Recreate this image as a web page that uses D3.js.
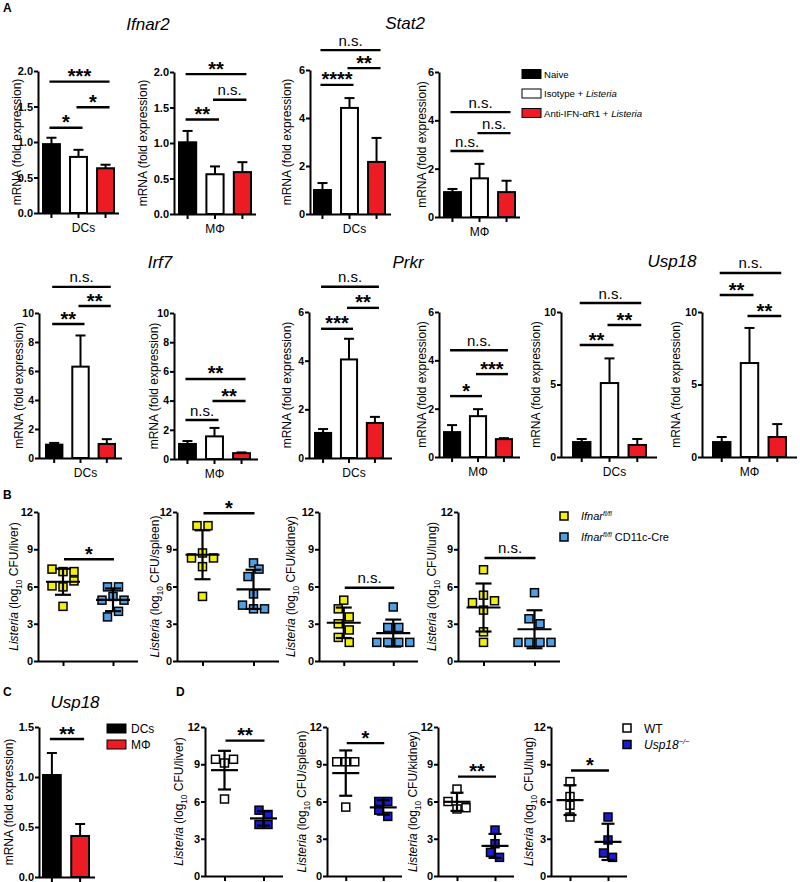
<!DOCTYPE html>
<html><head><meta charset="utf-8">
<script src="https://cdn.jsdelivr.net/npm/d3@7/dist/d3.min.js"></script>
<style>
body{margin:0;background:#fff}
svg text{font-family:'Liberation Sans',Arial,Helvetica,sans-serif;fill:#000}
</style></head>
<body>
<svg id="fig" width="800" height="882"></svg>
<script>
// ================= DATA =================
const treatments = ["Naive", "Isotype + Listeria", "Anti-IFN-\u03b1R1 + Listeria"];
const treatmentColors = ["#000000", "#ffffff", "#ed1c24"];
const cellTypes = ["DCs", "M\u03a6"];

// Panel A: mean and SEM (fold expression)
const ifnar2DC = [0.97, 0.79, 0.63], ifnar2DCsem = [0.09, 0.10, 0.05];
const ifnar2MP = [1.01, 0.56, 0.59], ifnar2MPsem = [0.16, 0.11, 0.14];
const stat2DC  = [1.00, 4.42, 2.17], stat2DCsem  = [0.29, 0.41, 1.00];
const stat2MP  = [1.03, 1.60, 1.03], stat2MPsem  = [0.13, 0.60, 0.47];
const irf7DC   = [0.92, 6.30, 0.97], irf7DCsem   = [0.12, 2.15, 0.33];
const irf7MP   = [1.03, 1.55, 0.40], irf7MPsem   = [0.20, 0.58, 0.05];
const prkrDC   = [1.03, 4.05, 1.44], prkrDCsem   = [0.16, 0.85, 0.25];
const prkrMP   = [1.03, 1.69, 0.74], prkrMPsem   = [0.29, 0.29, 0.04];
const usp18DC  = [1.03, 5.10, 0.83], usp18DCsem  = [0.21, 1.70, 0.41];
const usp18MP  = [1.03, 6.48, 1.38], usp18MPsem  = [0.35, 2.42, 0.89];

// significance brackets: [group i, group j, height (data units), label]
const ifnar2DCsig = [[0,1,1.20,"*"],[1,2,1.49,"*"],[0,2,1.85,"***"]];
const ifnar2MPsig = [[0,1,1.33,"**"],[1,2,1.61,"n.s."],[0,2,1.97,"**"]];
const stat2DCsig  = [[0,1,5.38,"****"],[1,2,6.08,"**"],[0,2,6.83,"n.s."]];
const stat2MPsig  = [[0,1,2.73,"n.s."],[1,2,3.47,"n.s."],[0,2,4.34,"n.s."]];
const irf7DCsig   = [[0,1,9.24,"**"],[1,2,10.48,"**"],[0,2,11.8,"n.s."]];
const irf7MPsig   = [[0,1,2.67,"n.s."],[1,2,3.97,"**"],[0,2,5.48,"**"]];
const prkrDCsig   = [[0,1,5.31,"***"],[1,2,6.17,"**"],[0,2,7.04,"n.s."]];
const prkrMPsig   = [[0,1,2.52,"*"],[1,2,3.43,"***"],[0,2,4.42,"n.s."]];
const usp18DCsig  = [[0,1,7.72,"**"],[1,2,9.10,"**"],[0,2,10.62,"n.s."]];
const usp18MPsig  = [[0,1,11.17,"**"],[1,2,9.72,"**"],[0,2,12.69,"n.s."]];

// tick values
const ticksIfnar2 = [0, 0.5, 1.0, 1.5, 2.0];
const ticksStat2  = [0, 2, 4, 6];
const ticksIrf7   = [0, 2, 4, 6, 8, 10];
const ticksPrkr   = [0, 2, 4, 6];
const ticksUsp18  = [0, 5, 10];
const ticksCFU    = [0, 3, 6, 9, 12];
const ticksC      = [0, 0.5, 1.0, 1.5];

// Panel B: log10 CFU per mouse
const organs = ["liver", "spleen", "kidney", "lung"];
const bLiverFl   = [7.4, 7.2, 7.2, 6.05, 5.97, 6.45, 4.4];
const bLiverCre  = [5.97, 5.97, 4.9, 5.2, 4.9, 3.55, 4.0];
const bSpleenFl  = [10.9, 10.9, 8.3, 8.7, 8.3, 7.6, 5.2];
const bSpleenCre = [7.9, 6.8, 7.4, 5.4, 4.5, 4.2, 4.2];
const bKidneyFl  = [4.9, 4.2, 3.55, 3.0, 2.5, 1.9, 1.5];
const bKidneyCre = [4.35, 2.7, 2.7, 1.5, 1.5, 1.5, 1.5];
const bLungFl    = [7.35, 4.7, 5.3, 4.85, 4.1, 2.35, 1.5];
const bLungCre   = [5.5, 3.4, 3.0, 1.5, 1.5, 1.5, 1.5];
const bSig  = ["*", "*", "n.s.", "n.s."];
const bSigY = [8.2, 11.9, 5.9, 8.3];
const bColors = ["#f3ef0c", "#4f9fe6"];

// Panel C
const usp18Cells = [1.02, 0.41], usp18CellsSem = [0.22, 0.12];
const cColors = ["#000000", "#ed1c24"];
const cSig = [[0,1,1.38,"**"]];

// Panel D
const dLiverWT   = [9.4, 9.1, 9.4, 6.2],  dLiverKO  = [5.3, 4.95, 4.15, 4.15];
const dSpleenWT  = [9.2, 9.2, 9.2, 5.55], dSpleenKO = [6.0, 6.0, 5.3, 4.8];
const dKidneyWT  = [7.0, 6.0, 5.4, 5.5],  dKidneyKO = [3.7, 2.6, 1.9, 1.5];
const dLungWT    = [7.6, 6.4, 5.7, 4.75], dLungKO   = [4.75, 2.9, 1.85, 1.5];
const dSig  = ["**", "*", "**", "*"];
const dSigY = [10.9, 10.7, 8.0, 8.5];
const dColors = ["#ffffff", "#1a1ad0"];

// ================= DRAWING =================
const svg = d3.select("#fig");
const FONT = "'Liberation Sans',Arial,Helvetica,sans-serif";
const NARROW = "'Liberation Sans Narrow','Arial Narrow','Liberation Sans',Arial,sans-serif";

function rich(sel, parts, size, family) {
  const t = sel.append("text").attr("font-size", size).attr("font-family", family || FONT);
  let shift = 0;
  parts.forEach(p => {
    const ts = t.append("tspan").text(p.t);
    if (p.it) ts.attr("font-style", "italic");
    let target = 0;
    if (p.sub) { ts.attr("font-size", size * 0.68); target = size * 0.28; }
    if (p.sup) { ts.attr("font-size", size * 0.62); target = -size * 0.38; }
    if (target !== shift) { ts.attr("dy", target - shift); shift = target; }
  });
  return t;
}

function styleAxis(g, fs) {
  g.select(".domain").attr("stroke", "#000").attr("stroke-width", 2);
  g.selectAll(".tick line").attr("stroke", "#000").attr("stroke-width", 2);
  g.selectAll(".tick text").attr("font-family", FONT).attr("font-weight", "bold")
    .attr("font-size", fs).attr("fill", "#000");
}

function bracket(g, x1, x2, yy, lab) {
  g.append("line").attr("x1", x1).attr("x2", x2).attr("y1", yy).attr("y2", yy)
    .attr("stroke", "#000").attr("stroke-width", 2.4);
  const t = g.append("text").attr("x", (x1 + x2) / 2).attr("text-anchor", "middle").text(lab);
  if (lab.indexOf("*") >= 0) {
    t.attr("y", yy + 1.5).attr("font-family", "'DejaVu Sans',sans-serif").attr("font-weight", "bold").attr("font-size", 20);
  } else {
    t.attr("y", yy - 4.5).attr("font-size", 15);
  }
}

function yLabel(g, x, yc, parts, size) {
  const t = rich(g, parts, size || 12);
  t.attr("text-anchor", "middle").attr("transform", `translate(${x},${yc}) rotate(-90)`).attr("dy", "0.35em");
}

const mrnaLabel = [{t: "mRNA (fold expression)"}];

function barPanel(p, vals, sems, sig, colors, cat) {
  const g = svg.append("g");
  const x = d3.scaleBand().domain(d3.range(vals.length)).range([p.r0, p.r1]).paddingInner(0.3).paddingOuter(0);
  const y = d3.scaleLinear().domain([0, p.max]).range([p.y0, p.yTop]);
  const ya = g.append("g").attr("transform", `translate(${p.ax},0)`)
    .call(d3.axisLeft(y).tickValues(p.ticks).tickFormat(d3.format(p.fmt)).tickSize(4).tickSizeOuter(0).tickPadding(1));
  styleAxis(ya, p.fs);
  const xa = g.append("g").attr("transform", `translate(0,${p.y0})`)
    .call(d3.axisBottom(x).tickSize(5).tickFormat(""));
  xa.select(".domain").remove();
  xa.selectAll(".tick line").attr("stroke", "#000").attr("stroke-width", 2);
  g.append("line").attr("x1", p.ax).attr("x2", p.xEnd).attr("y1", p.y0 + 0.5).attr("y2", p.y0 + 0.5)
    .attr("stroke", "#000").attr("stroke-width", 2);
  const bw = x.bandwidth();
  const c = i => x(i) + bw / 2;
  g.selectAll("line.err").data(vals).join("line").attr("class", "err")
    .attr("x1", (d, i) => c(i)).attr("x2", (d, i) => c(i))
    .attr("y1", d => y(d)).attr("y2", (d, i) => y(d + sems[i]))
    .attr("stroke", "#000").attr("stroke-width", 2);
  g.selectAll("line.cap").data(vals).join("line").attr("class", "cap")
    .attr("x1", (d, i) => c(i) - 5).attr("x2", (d, i) => c(i) + 5)
    .attr("y1", (d, i) => y(d + sems[i])).attr("y2", (d, i) => y(d + sems[i]))
    .attr("stroke", "#000").attr("stroke-width", 2);
  g.selectAll("rect.bar").data(vals).join("rect").attr("class", "bar")
    .attr("x", (d, i) => x(i) + 1).attr("y", d => y(d))
    .attr("width", bw - 2).attr("height", d => p.y0 - y(d))
    .attr("fill", (d, i) => colors[i]).attr("stroke", "#000").attr("stroke-width", 2);
  sig.forEach(([i, j, yv, lab]) => bracket(g, c(i) - 2, c(j) + 4, y(yv), lab));
  if (cat) {
    g.append("text").attr("x", c(1) + (cat === "DCs" ? 5 : 0)).attr("y", p.y0 + 19)
      .attr("text-anchor", "middle").attr("font-size", 12).text(cat);
  }
  yLabel(g, p.labX, (p.y0 + p.yTop) / 2, mrnaLabel, 12);
  return {x, y};
}

// swarm-like horizontal placement of points sharing similar values
function rowOffsets(vals, y, thr, s) {
  const offs = new Array(vals.length).fill(0);
  let start = 0;
  const flush = (a, b) => { const n = b - a; for (let k = a; k < b; k++) offs[k] = (k - a - (n - 1) / 2) * s; };
  for (let k = 1; k <= vals.length; k++) {
    if (k === vals.length || Math.abs(y(vals[k]) - y(vals[k - 1])) >= thr || Math.abs(y(vals[k]) - y(vals[start])) >= thr) {
      flush(start, k); start = k;
    }
  }
  return offs;
}

function scatterPanel(p, groups, colors, sigLab, sigY, organ, st) {
  const g = svg.append("g");
  const x = d3.scalePoint().domain(d3.range(groups.length)).range([p.ax, p.xEnd]).padding(0.5);
  const y = d3.scaleLinear().domain([0, 12]).range([p.y0, p.yTop]);
  const ya = g.append("g").attr("transform", `translate(${p.ax},0)`)
    .call(d3.axisLeft(y).tickValues(ticksCFU).tickFormat(d3.format("d")).tickSize(4).tickSizeOuter(0).tickPadding(1));
  styleAxis(ya, 11);
  const xa = g.append("g").attr("transform", `translate(0,${p.y0})`)
    .call(d3.axisBottom(x).tickSize(5).tickFormat(""));
  xa.select(".domain").remove();
  xa.selectAll(".tick line").attr("stroke", "#000").attr("stroke-width", 2);
  g.append("line").attr("x1", p.ax).attr("x2", p.xEnd).attr("y1", p.y0 + 0.5).attr("y2", p.y0 + 0.5)
    .attr("stroke", "#000").attr("stroke-width", 2);
  groups.forEach((vals, gi) => {
    const offs = rowOffsets(vals, y, 8.5, st.s);
    g.append("g").selectAll("rect").data(vals).join("rect")
      .attr("x", (d, i) => x(gi) + offs[i] - st.size / 2).attr("y", d => y(d) - st.size / 2)
      .attr("width", st.size).attr("height", st.size)
      .attr("fill", colors[gi]).attr("stroke", "#000").attr("stroke-width", 1.5);
    const m = d3.mean(vals), sd = d3.deviation(vals), cx = x(gi);
    const lg = g.append("g").attr("stroke", "#000").attr("stroke-width", 2.2);
    lg.append("line").attr("x1", cx).attr("x2", cx).attr("y1", y(m - sd)).attr("y2", y(m + sd));
    lg.append("line").attr("x1", cx - st.meanW / 2).attr("x2", cx + st.meanW / 2).attr("y1", y(m)).attr("y2", y(m));
    [m - sd, m + sd].forEach(v => lg.append("line").attr("x1", cx - st.capW / 2).attr("x2", cx + st.capW / 2).attr("y1", y(v)).attr("y2", y(v)));
  });
  bracket(g, x(0) + 1, x(1) + 1, y(sigY), sigLab);
  yLabel(g, p.labX, (p.y0 + p.yTop) / 2,
    [{t: "Listeria", it: true}, {t: " (log"}, {t: "10", sub: true}, {t: " CFU/" + organ + ")"}], 12);
}

// ---------- panel letters ----------
[["A", 3, 12], ["B", 3, 499], ["C", 3, 696], ["D", 176, 696]].forEach(([l, x, y]) =>
  svg.append("text").attr("x", x).attr("y", y).attr("font-size", 12).attr("font-weight", "bold").text(l));

// ---------- gene titles ----------
[["Ifnar2", 148, 30], ["Stat2", 405, 29], ["Irf7", 160, 268], ["Prkr", 408, 268], ["Usp18", 672, 267], ["Usp18", 75, 708]]
  .forEach(([t, x, y]) => svg.append("text").attr("x", x).attr("y", y).attr("text-anchor", "middle")
    .attr("font-size", 17).attr("font-style", "italic").text(t));

// ---------- Panel A ----------
const f1 = ".1f", fd = "d";
barPanel({ax:38,  r0:42,  r1:115, xEnd:119, y0:213, yTop:71, max:2, ticks:ticksIfnar2, fmt:f1, fs:11, labX:17},  ifnar2DC, ifnar2DCsem, ifnar2DCsig, treatmentColors, cellTypes[0]);
barPanel({ax:174, r0:178, r1:252, xEnd:256, y0:214, yTop:72, max:2, ticks:ticksIfnar2, fmt:f1, fs:11, labX:143}, ifnar2MP, ifnar2MPsem, ifnar2MPsig, treatmentColors, cellTypes[1]);
barPanel({ax:310, r0:313, r1:386, xEnd:391, y0:214, yTop:70, max:6, ticks:ticksStat2, fmt:fd, fs:11, labX:287},   stat2DC, stat2DCsem, stat2DCsig, treatmentColors, cellTypes[0]);
barPanel({ax:439, r0:443, r1:516, xEnd:520, y0:217, yTop:72, max:6, ticks:ticksStat2, fmt:fd, fs:11, labX:422},   stat2MP, stat2MPsem, stat2MPsig, treatmentColors, cellTypes[1]);

barPanel({ax:39,  r0:45,  r1:116, xEnd:122, y0:458, yTop:313, max:10, ticks:ticksIrf7, fmt:fd, fs:10.5, labX:19},  irf7DC, irf7DCsem, irf7DCsig, treatmentColors, cellTypes[0]);
barPanel({ax:174, r0:178, r1:251, xEnd:258, y0:459, yTop:313, max:10, ticks:ticksIrf7, fmt:fd, fs:10.5, labX:154}, irf7MP, irf7MPsem, irf7MPsig, treatmentColors, cellTypes[1]);
barPanel({ax:309, r0:314, r1:384, xEnd:392, y0:458, yTop:312, max:6, ticks:ticksPrkr, fmt:fd, fs:10.5, labX:287},  prkrDC, prkrDCsem, prkrDCsig, treatmentColors, cellTypes[0]);
barPanel({ax:439, r0:443, r1:513, xEnd:520, y0:457, yTop:312, max:6, ticks:ticksPrkr, fmt:fd, fs:10.5, labX:422},  prkrMP, prkrMPsem, prkrMPsig, treatmentColors, cellTypes[1]);
barPanel({ax:561, r0:572, r1:647, xEnd:657, y0:457, yTop:312, max:10, ticks:ticksUsp18, fmt:fd, fs:10.5, labX:536}, usp18DC, usp18DCsem, usp18DCsig, treatmentColors, cellTypes[0]);
barPanel({ax:702, r0:712, r1:787, xEnd:797, y0:457, yTop:312, max:10, ticks:ticksUsp18, fmt:fd, fs:10.5, labX:676}, usp18MP, usp18MPsem, usp18MPsig, treatmentColors, cellTypes[1]);

// legend A
treatments.forEach((name, i) => {
  const yy = 74 + i * 19.5;
  svg.append("rect").attr("x", 522).attr("y", yy - 4.5).attr("width", 19).attr("height", 9)
    .attr("fill", treatmentColors[i]).attr("stroke", "#000").attr("stroke-width", 1);
  const parts = name.split(/(Listeria)/).filter(s => s.length).map(s => ({t: s, it: s === "Listeria"}));
  rich(svg, parts, 9.6, NARROW).attr("x", 544).attr("y", yy + 3.5);
});

// ---------- Panel B ----------
const bLayout = [{ax:38, xEnd:138, labX:14}, {ax:177, xEnd:279, labX:155}, {ax:319, xEnd:418, labX:291}, {ax:458, xEnd:560, labX:432}];
const bGroups = [[bLiverFl, bLiverCre], [bSpleenFl, bSpleenCre], [bKidneyFl, bKidneyCre], [bLungFl, bLungCre]];
const bStyle = {size: 8, s: 11, meanW: 34, capW: 16};
bLayout.forEach((L, k) => scatterPanel(Object.assign({y0:661, yTop:512}, L), bGroups[k], bColors, bSig[k], bSigY[k], organs[k], bStyle));

// legend B
[[{t:"Ifnar", it:true}, {t:"fl/fl", sup:true, it:true}], [{t:"Ifnar", it:true}, {t:"fl/fl", sup:true, it:true}, {t:" CD11c-Cre"}]]
  .forEach((parts, i) => {
    const yy = 516 + i * 21;
    svg.append("rect").attr("x", 560).attr("y", yy - 4).attr("width", 8).attr("height", 8)
      .attr("fill", bColors[i]).attr("stroke", "#000").attr("stroke-width", 1.5);
    rich(svg, parts, 11, NARROW).attr("x", 581).attr("y", yy + 4);
  });

// ---------- Panel C ----------
barPanel({ax:39, r0:42, r1:90, xEnd:95, y0:877, yTop:727, max:1.5, ticks:ticksC, fmt:f1, fs:11, labX:9},
  usp18Cells, usp18CellsSem, cSig, cColors, null);
cellTypes.forEach((name, i) => {
  const yy = 728.5 + i * 16;
  svg.append("rect").attr("x", 107).attr("y", yy - 4.5).attr("width", 19).attr("height", 9)
    .attr("fill", cColors[i]).attr("stroke", "#000").attr("stroke-width", 1);
  svg.append("text").attr("x", 131).attr("y", yy + 4.5).attr("font-size", 12).text(name);
});

// ---------- Panel D ----------
const dLayout = [{ax:205, xEnd:283, labX:179}, {ax:327, xEnd:402, labX:302}, {ax:438, xEnd:514, labX:413}, {ax:551, xEnd:627, labX:529}];
const dGroups = [[dLiverWT, dLiverKO], [dSpleenWT, dSpleenKO], [dKidneyWT, dKidneyKO], [dLungWT, dLungKO]];
const dStyle = {size: 8, s: 9, meanW: 27, capW: 13};
dLayout.forEach((L, k) => scatterPanel(Object.assign({y0:876, yTop:727}, L), dGroups[k], dColors, dSig[k], dSigY[k], organs[k], dStyle));

// legend D
[[{t:"WT"}], [{t:"Usp18", it:true}, {t:"\u2212/\u2212", sup:true, it:true}]].forEach((parts, i) => {
  const yy = 728 + i * 16.5;
  svg.append("rect").attr("x", 623).attr("y", yy - 4).attr("width", 8).attr("height", 8)
    .attr("fill", dColors[i]).attr("stroke", "#000").attr("stroke-width", 1.5);
  rich(svg, parts, 12, i ? NARROW : FONT).attr("x", 644).attr("y", yy + 4.5);
});
</script>
</body></html>
